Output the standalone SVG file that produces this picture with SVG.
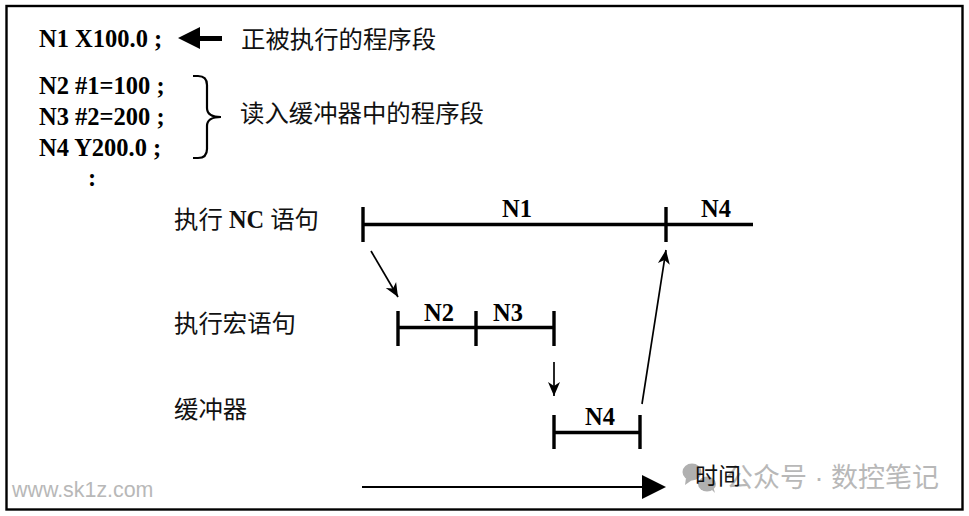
<svg xmlns="http://www.w3.org/2000/svg" width="969" height="516" viewBox="0 0 969 516">
<style>
.code{font-family:"Liberation Serif",serif;font-weight:bold;font-size:24.500px;fill:#000}
.lab{font-family:"Liberation Serif","Noto Sans CJK SC",serif;font-size:24.400px;fill:#111}
.bar{stroke:#000;stroke-width:3.400;fill:none}
.thin{stroke:#000;stroke-width:1.700;fill:none}
.mark{font-family:"Liberation Sans","Noto Sans CJK SC",sans-serif;fill:#b8b8b8}
</style>
<defs>
<marker id="open" markerUnits="userSpaceOnUse" markerWidth="16" markerHeight="18" refX="14" refY="8" orient="auto"><path d="M0 2 L14 8 L0 14 L4 8Z" fill="#000"/></marker>
</defs>
<rect width="969" height="516" fill="#fff"/>
<rect id="frame" x="6.500" y="6" width="956" height="503.500" fill="none" stroke="#000" stroke-width="2.400"/>
<g id="watermark">
<text class="mark" x="12" y="497" font-size="21.400">www.sk1z.com</text>
<g fill="#b0b0b0">
<ellipse cx="692" cy="472" rx="9.500" ry="8.500"/>
<path d="M686 478 L685 485 L692 480Z"/>
<ellipse cx="707" cy="484" rx="9" ry="7.500"/>
<path d="M711 489 L715 493 L713 486Z"/>
</g>
<text class="mark" x="726" y="487" font-size="27">公众号 · 数控笔记</text>
</g>
<g id="listing">
<text class="code" x="39" y="47">N1 X100.0 ;</text>
<text class="code" x="39" y="94">N2 #1=100 ;</text>
<text class="code" x="39" y="125">N3 #2=200 ;</text>
<text class="code" x="39" y="156">N4 Y200.0 ;</text>
<text class="code" x="88" y="186">:</text>
</g>
<g id="label-current"><text class="lab" x="241" y="48">正被执行的程序段</text></g>
<g id="label-buffer"><text class="lab" x="240" y="122">读入缓冲器中的程序段</text></g>
<g id="label-nc"><text class="lab" x="174" y="228">执行 <tspan font-weight="bold">NC</tspan> 语句</text></g>
<g id="label-macro"><text class="lab" x="174" y="332">执行宏语句</text></g>
<g id="label-bufferrow"><text class="lab" x="174" y="418">缓冲器</text></g>
<g id="label-time"><text class="lab" x="695" y="484" style="font-size:23px">时间</text></g>
<g id="nc-row">
<path class="bar" d="M363 207V242M363 224.500H753M666 207V242"/>
<text class="code" x="502" y="217">N1</text>
<text class="code" x="701" y="217">N4</text>
</g>
<g id="macro-row">
<path class="bar" d="M398 311V346M398 327.500H554M476 311V346M554 311V346"/>
<text class="code" x="424" y="321">N2</text>
<text class="code" x="493" y="321">N3</text>
</g>
<g id="buffer-row">
<path class="bar" d="M554 415V449M554 432.500H640M640 415V449"/>
<text class="code" x="585" y="425">N4</text>
</g>
<g id="connectors">
<path d="M178 38 L200 27 V36 H222 V41 H200 V49Z" fill="#000"/>
<path d="M193 76 H198 Q207 76 207 85 V108 Q207 117 221 117 Q207 117 207 126 V149 Q207 158 198 158 H193" fill="none" stroke="#000" stroke-width="2.200"/>
<path class="thin" d="M371 251 L398 297" marker-end="url(#open)"/>
<path class="thin" d="M554 362 V396" marker-end="url(#open)"/>
<path class="thin" d="M642 404 L666 250" marker-end="url(#open)"/>
<path d="M362 487 H645" stroke="#000" stroke-width="2"/>
<path d="M642 475 L666 487 L642 499Z" fill="#000"/>
</g>
</svg>
